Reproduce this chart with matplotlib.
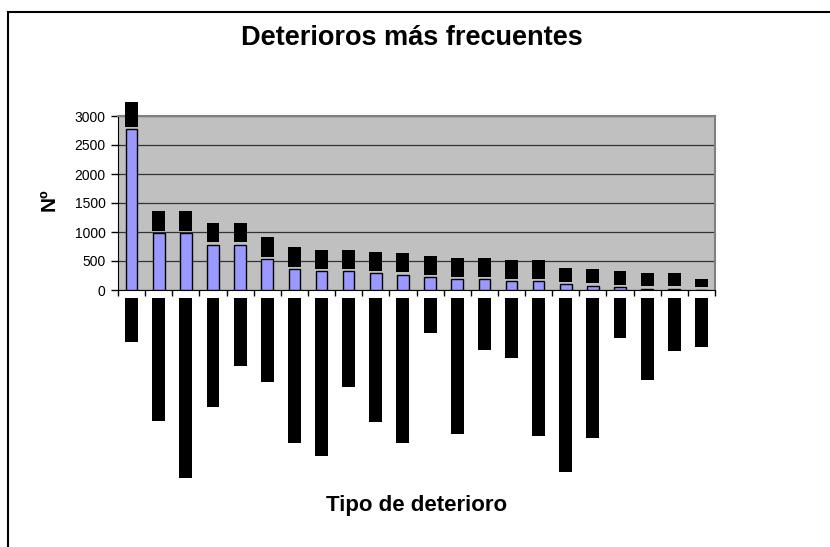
import numpy as np
import matplotlib.pyplot as plt
from matplotlib.patches import Rectangle

plt.rcParams['font.family'] = ['Liberation Sans', 'DejaVu Sans']

#%% datos
tipos = ['Suciedad', 'Manchas de humedad/agua', 'Roturas y pérdidas de soporte en bordes',
         'Deformación del soporte', 'Polvo adherido', 'Pliegues y arrugas',
         'Galerías por insectos bibliófagos', 'Restauraciones anteriores erróneas',
         'Restos de adhesivo', 'Ataque de microorganismos', 'Encuadernaciones desprendidas',
         'Grietas', 'Oxidación y acidez del soporte', 'Abrasiones', 'Decoloración',
         'Corrosión de tintas ferrogálicas', 'Pérdida de cohesión de fibras del papel',
         'Costura de los cuadernillos rota', 'Mutilado', 'Manchas de tintas', 'Vandalismo',
         'Abolsados']
n_casos = [2770, 977, 977, 776, 776, 529, 356, 322, 322, 287, 259, 218,
           184, 184, 150, 150, 98, 75, 45, 15, 15, 5]
yticks = [0, 500, 1000, 1500, 2000, 2500, 3000]

#%% figura
fig = plt.figure(figsize=(8.3, 5.47), dpi=100)
ax = fig.add_axes([118/830, 1-290/547, (715-118)/830, (290-116)/547])
ax.set_facecolor('#C0C0C0')

x = np.arange(len(tipos))
ax.bar(x, n_casos, width=0.43, color='#9999FF', edgecolor='black', linewidth=1, zorder=3)

# etiquetas de valor encima de cada barra
for i, v in enumerate(n_casos):
    ax.annotate(str(v), (i, v), xytext=(0, 3), textcoords='offset points',
                rotation=90, ha='center', va='bottom', fontsize=7, color='black',
                bbox=dict(boxstyle='square,pad=0.15', fc='black', ec='none'),
                annotation_clip=False, zorder=4)

ax.set_xlim(-0.5, len(tipos)-0.5)
ax.set_ylim(0, 3000)
ax.set_yticks(yticks)
ax.yaxis.grid(True, color='#333333', linewidth=0.9, zorder=1)
ax.set_axisbelow(True)
ax.tick_params(axis='y', direction='out', length=5, width=1, labelsize=10, pad=4)

ax.set_xticks(x)
ax.set_xticklabels(tipos, rotation=90, fontsize=7, color='black')
for lab in ax.get_xticklabels():
    lab.set_bbox(dict(boxstyle='square,pad=0.15', fc='black', ec='none'))
ax.tick_params(axis='x', which='major', length=0, pad=7)
ax.set_xticks(np.arange(-0.5, len(tipos), 1), minor=True)
ax.tick_params(axis='x', which='minor', direction='out', length=4, width=1)

for s in ['top', 'right']:
    ax.spines[s].set_color('#808080')
    ax.spines[s].set_linewidth(1.5)
ax.spines['left'].set_color('black')
ax.spines['bottom'].set_color('black')

#%% textos
fig.text(412/830, 1-38/547, 'Deterioros más frecuentes', ha='center', va='center',
         fontsize=19.5, fontweight='bold')
fig.text(417/830, 1-505/547, 'Tipo de deterioro', ha='center', va='center',
         fontsize=16, fontweight='bold')
fig.text(49/830, 1-200/547, 'Nº', ha='center', va='center', rotation=90,
         fontsize=15, fontweight='bold')

# marco del grafico
fig.add_artist(Rectangle((8/830, -0.1), 1.0, 1.1-12/547, transform=fig.transFigure,
                         fill=False, edgecolor='black', linewidth=1.5))

plt.savefig('out.png', dpi=100)
